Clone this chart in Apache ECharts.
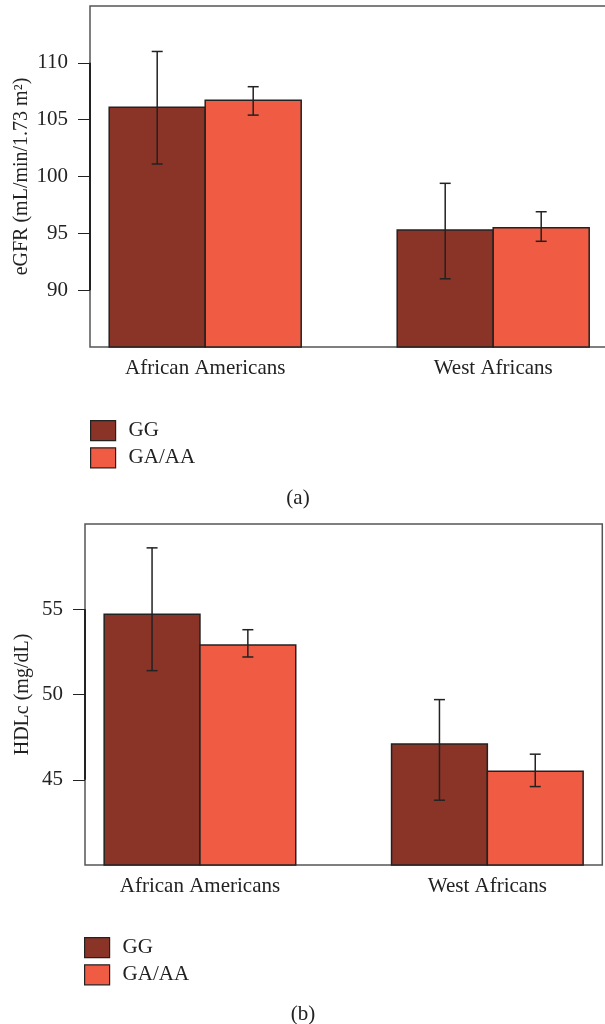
<!DOCTYPE html>
<html lang="en">
<head>
    <meta charset="UTF-8">
    <title>eGFR / HDLc by genotype</title>
    <script src="https://cdn.jsdelivr.net/npm/echarts@6/dist/echarts.min.js"></script>
    <style>
        html, body { margin: 0; padding: 0; background: #fff; }
    </style>
</head>
<body>
<div id="main" style="width:605px; height:1024px;"></div>
</body>
<script type="text/javascript">

    // groups and genotypes
    const categories = ['African Americans', 'West Africans'];
    const genotypes = ['GG', 'GA/AA'];

    // panel (a): eGFR, mean with error bar ends
    const egfrGG = [106.1, 95.3];
    const egfrGGLow = [101.1, 91.0];
    const egfrGGHigh = [111.0, 99.4];
    const egfrGA = [106.7, 95.5];
    const egfrGALow = [105.4, 94.3];
    const egfrGAHigh = [107.9, 96.9];
    const egfrTicks = [90, 95, 100, 105, 110];

    // panel (b): HDLc
    const hdlGG = [54.7, 47.1];
    const hdlGGLow = [51.4, 43.8];
    const hdlGGHigh = [58.6, 49.7];
    const hdlGA = [52.9, 45.5];
    const hdlGALow = [52.2, 44.6];
    const hdlGAHigh = [53.8, 46.5];
    const hdlTicks = [45, 50, 55];

    const colors = ['#8a3428', '#ef5c43'];
    const font = "'Liberation Serif', 'DejaVu Serif', serif";
    const ink = '#222';
    const fs = 21;

    let myChart = echarts.init(document.getElementById('main'));

    // barplot layout like R: each group = 2 bars of width 1, one unit gap in front
    function barRenderer(barIndex, yMin) {
        return function (params, api) {
            let cat = api.value(0);
            let x0 = 1 + 3 * cat + barIndex;
            let topLeft = api.coord([x0, api.value(1)]);
            let bottomRight = api.coord([x0 + 1, yMin]);
            let mid = api.coord([x0 + 0.5, api.value(2)]);
            let hi = api.coord([x0 + 0.5, api.value(3)]);
            let cap = 5.5;
            let errStyle = { stroke: ink, lineWidth: 1.5 };
            return {
                type: 'group',
                children: [
                    {
                        type: 'rect',
                        shape: {
                            x: topLeft[0], y: topLeft[1],
                            width: bottomRight[0] - topLeft[0],
                            height: bottomRight[1] - topLeft[1]
                        },
                        style: { fill: colors[barIndex], stroke: ink, lineWidth: 1.5 }
                    },
                    { type: 'line', shape: { x1: mid[0], y1: mid[1], x2: hi[0], y2: hi[1] }, style: errStyle },
                    { type: 'line', shape: { x1: mid[0] - cap, y1: mid[1], x2: mid[0] + cap, y2: mid[1] }, style: errStyle },
                    { type: 'line', shape: { x1: hi[0] - cap, y1: hi[1], x2: hi[0] + cap, y2: hi[1] }, style: errStyle }
                ]
            };
        };
    }

    function rows(vals, lows, highs) {
        return vals.map(function (v, i) { return [i, v, lows[i], highs[i]]; });
    }

    function xAxisFor(gridIndex) {
        return {
            type: 'value', gridIndex: gridIndex, min: 0.8, max: 6.2,
            axisLine: { show: false }, axisTick: { show: false }, splitLine: { show: false },
            axisLabel: {
                customValues: [2, 5],
                formatter: function (v) { return categories[Math.round((v - 2) / 3)]; },
                color: ink, fontFamily: font, fontSize: fs, margin: 11
            }
        };
    }

    function yAxisFor(gridIndex, min, max, ticks, name, gap) {
        return {
            type: 'value', gridIndex: gridIndex, min: min, max: max,
            name: name, nameLocation: 'middle', nameGap: gap, nameMoveOverlap: false,
            nameTextStyle: { color: ink, fontFamily: font, fontSize: 20 },
            axisLine: { show: false },
            axisTick: { show: true, length: 12, customValues: ticks, lineStyle: { color: ink, width: 1 } },
            axisLabel: { customValues: ticks, color: ink, fontFamily: font, fontSize: fs, margin: 22 },
            splitLine: { show: false }
        };
    }

    // left axis segment spanning the tick range (R style)
    function axisSegment(ticks) {
        return {
            silent: true, symbol: 'none', label: { show: false },
            lineStyle: { color: ink, width: 2, type: 'solid' },
            data: [[{ coord: [0.8, ticks[0]] }, { coord: [0.8, ticks[ticks.length - 1]] }]]
        };
    }

    function legendAt(left, top) {
        return {
            data: genotypes, orient: 'vertical', left: left, top: top, padding: 0,
            itemWidth: 25, itemHeight: 20, itemGap: 6, icon: 'rect',
            itemStyle: { borderColor: ink, borderWidth: 1.2 },
            textStyle: { color: ink, fontFamily: font, fontSize: fs, padding: [0, 0, 0, 8] },
            selectedMode: false
        };
    }

    let option = {
        animation: false,
        title: [
            { text: '(a)', left: 298, top: 488, textAlign: 'center', padding: 0,
              textStyle: { color: ink, fontFamily: font, fontSize: fs, fontWeight: 'normal' } },
            { text: '(b)', left: 303, top: 1004, textAlign: 'center', padding: 0,
              textStyle: { color: ink, fontFamily: font, fontSize: fs, fontWeight: 'normal' } }
        ],
        legend: [legendAt(90, 420), legendAt(84, 937)],
        grid: [
            { left: 90, top: 6, width: 518.4, height: 341, outerBoundsMode: 'none', containLabel: false,
              show: true, borderColor: '#555', borderWidth: 1.5 },
            { left: 85, top: 524, width: 517.3, height: 341, outerBoundsMode: 'none', containLabel: false,
              show: true, borderColor: '#555', borderWidth: 1.5 }
        ],
        xAxis: [xAxisFor(0), xAxisFor(1)],
        yAxis: [
            yAxisFor(0, 85, 115, egfrTicks, 'eGFR (mL/min/1.73 m²)', 58),
            yAxisFor(1, 40, 60, hdlTicks, 'HDLc (mg/dL)', 52)
        ],
        series: [
            { name: 'GG', type: 'custom', xAxisIndex: 0, yAxisIndex: 0, itemStyle: { color: colors[0] },
              renderItem: barRenderer(0, 85), data: rows(egfrGG, egfrGGLow, egfrGGHigh),
              markLine: axisSegment(egfrTicks) },
            { name: 'GA/AA', type: 'custom', xAxisIndex: 0, yAxisIndex: 0, itemStyle: { color: colors[1] },
              renderItem: barRenderer(1, 85), data: rows(egfrGA, egfrGALow, egfrGAHigh) },
            { name: 'GG', type: 'custom', xAxisIndex: 1, yAxisIndex: 1, itemStyle: { color: colors[0] },
              renderItem: barRenderer(0, 40), data: rows(hdlGG, hdlGGLow, hdlGGHigh),
              markLine: axisSegment(hdlTicks) },
            { name: 'GA/AA', type: 'custom', xAxisIndex: 1, yAxisIndex: 1, itemStyle: { color: colors[1] },
              renderItem: barRenderer(1, 40), data: rows(hdlGA, hdlGALow, hdlGAHigh) }
        ]
    };

    myChart.setOption(option);
</script>
</html>
